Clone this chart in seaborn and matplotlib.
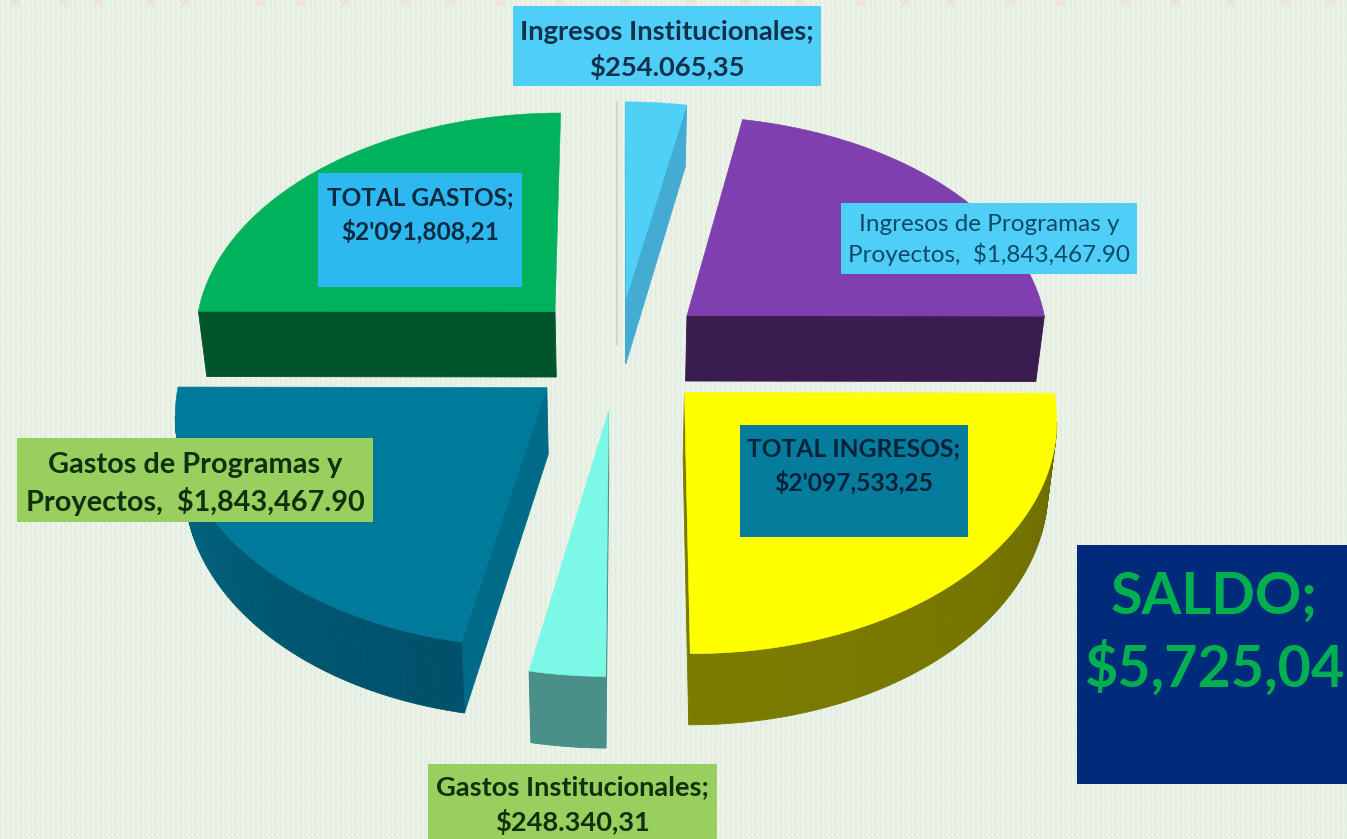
"""Exploded 3D pie of ingresos / gastos, with a hand made perspective."""

import numpy as np
import seaborn as sns
import matplotlib.pyplot as plt
from matplotlib.patches import Rectangle

# data, clockwise from 12 o'clock
SLICES = ["Ingresos Institucionales", "Ingresos de Programas y Proyectos",
          "TOTAL INGRESOS", "Gastos Institucionales",
          "Gastos de Programas y Proyectos", "TOTAL GASTOS"]
VALUES = [254065.35, 1843467.90, 2097533.25, 248340.31, 1843467.90, 2091808.21]

TOP_COLORS = ["#4fd0f7", "#7f3fae", "#ffff00", "#7cf8e6", "#007a9b", "#00b25c"]
SIDE_COLORS = ["#44abd2", "#3a1c50", "#7b7b00", "#4a8f88", "#006b88", "#00552a"]
ARC_DARK = ["#44abd2", "#3a1c50", "#6a6a00", "#4a8f88", "#00516a", "#00552a"]
EXPLODE = [0.24, 0.25, 0.255, 0.26, 0.25, 0.25]
NO_SIDE_WALL = ["TOTAL GASTOS"]

# projection, in pixels
CX, CY, RX, RY, TILT = 618, 351, 363, 226, 0.10
DEPTH, BOTTOM_SCALE = 66, 0.98

# text, box, text centre y, box colour, text colour, weight, size, line spacing
LABELS = [
    ("Ingresos Institucionales;\n$254.065,35", (513, 6, 308, 80), 50, "#4fcff8", "#12304c", "bold", 19.7, 1.43),
    ("Ingresos de Programas y\nProyectos,  $1,843,467.90", (841, 203, 296, 71), 240, "#4fcff8", "#0f4a68", "normal", 17.5, 1.38),
    ("TOTAL GASTOS;\n$2'091,808,21", (318, 173, 204, 114), 215, "#2db8f0", "#0b2a40", "bold", 17.6, 1.45),
    ("TOTAL INGRESOS;\n$2'097,533,25", (740, 425, 228, 112), 466, "#067c9c", "#06223a", "bold", 17.7, 1.47),
    ("Gastos de Programas y\nProyectos,  $1,843,467.90", (17, 438, 356, 84), 484, "#99cf5f", "#10300f", "bold", 20.8, 1.34),
    ("Gastos Institucionales;\n$248.340,31", (428, 764, 289, 78), 805, "#99cf5f", "#10300f", "bold", 19.6, 1.43),
]
SALDO_TEXT = "SALDO;\n$5,725,04"
STAR_X = [15, 63, 98, 150, 185, 260, 300, 345, 405, 450, 500, 560, 625, 690, 745,
          800, 860, 905, 950, 1010, 1060, 1125, 1175, 1230, 1285, 1330]


def project(x, y, bottom=False):
    w = 1 + TILT * y
    sx = RX * x / w
    sy = RY * y / w
    if bottom:
        return CX + sx * BOTTOM_SCALE, CY - sy + DEPTH / w ** 0.6
    return CX + sx, CY - sy


def background():
    yy, xx = np.mgrid[0:839, 0:1347]
    wave = np.sin(2 * np.pi * (xx + 1.5 * np.abs(yy % 6 - 3)) / 5)
    wave = wave * np.cos(2 * np.pi * yy / 6) * 0.5 + 0.5
    low, high = np.array([0.86, 0.91, 0.85]), np.array([0.96, 0.98, 0.95])
    return low + (high - low) * wave[..., None]


sns.set_theme(style="white")
plt.rcParams["font.family"] = ["Lato", "DejaVu Sans"]

fig = plt.figure(figsize=(13.47, 8.39), dpi=100)
ax = fig.add_axes([0, 0, 1, 1])
ax.imshow(background(), extent=(0, 1347, 839, 0), aspect="auto", zorder=0,
          interpolation="bilinear")
ax.scatter(STAR_X, [0] * len(STAR_X), marker="*", s=170, color="#f3d9cd", alpha=0.55,
           linewidths=0, zorder=1)
ax.plot([617, 617], [102, 345], color="#cbd6cf", lw=1.2, zorder=1)

top_pal = sns.color_palette(TOP_COLORS)
side_pal = sns.color_palette(SIDE_COLORS)
arc_pal = sns.color_palette(ARC_DARK)

fractions = np.array(VALUES) / sum(VALUES)
stops = 90 - 360 * np.concatenate([[0], np.cumsum(fractions)])

for i in range(len(VALUES)):
    start, end = stops[i], stops[i + 1]
    mid = np.radians((start + end) / 2)
    ox, oy = EXPLODE[i] * np.cos(mid), EXPLODE[i] * np.sin(mid)
    theta = np.radians(np.linspace(start, end, 90))
    px = np.concatenate([[ox], ox + np.cos(theta)])
    py = np.concatenate([[oy], oy + np.sin(theta)])
    tx, ty = project(px, py)
    bx, by = project(px, py, bottom=True)
    n = len(px)
    for j in range(n):
        k = (j + 1) % n
        if tx[k] >= tx[j]:
            continue  # back facing, sits under the top face
        radial = j == 0 or k == 0
        if radial and k == 0 and SLICES[i] in NO_SIDE_WALL:
            continue
        if radial:
            col = side_pal[i]
        else:
            # arc goes darker where it turns away
            t = abs(np.sin(theta[j - 1]))
            col = tuple(np.array(side_pal[i]) * t + np.array(arc_pal[i]) * (1 - t))
            if i == 4:
                col = tuple(np.array(side_pal[i]) * (1 - t) + np.array(arc_pal[i]) * t)
        ax.fill([tx[j], tx[k], bx[k], bx[j]], [ty[j], ty[k], by[k], by[j]],
                color=col, lw=0.6, zorder=2 + i * 0.01)
    ax.fill(tx, ty, color=top_pal[i], lw=0.4, zorder=3)

for text, (x, y, w, h), text_y, bg, fg, weight, size, spacing in LABELS:
    ax.add_patch(Rectangle((x, y), w, h, color=bg, lw=0, zorder=4))
    ax.text(x + w / 2, text_y, text, color=fg, fontweight=weight, fontsize=size,
            ha="center", va="center", linespacing=spacing, zorder=5)

ax.add_patch(Rectangle((1077, 545), 270, 239, color="#002a7a", lw=0, zorder=4))
ax.text(1214, 634, SALDO_TEXT, color="#00b050", fontweight="bold", fontsize=41.4,
        ha="center", va="center", linespacing=1.37, zorder=5)

ax.set_xlim(0, 1347)
ax.set_ylim(839, 0)
ax.axis("off")

fig.savefig("out.png", dpi=100)
